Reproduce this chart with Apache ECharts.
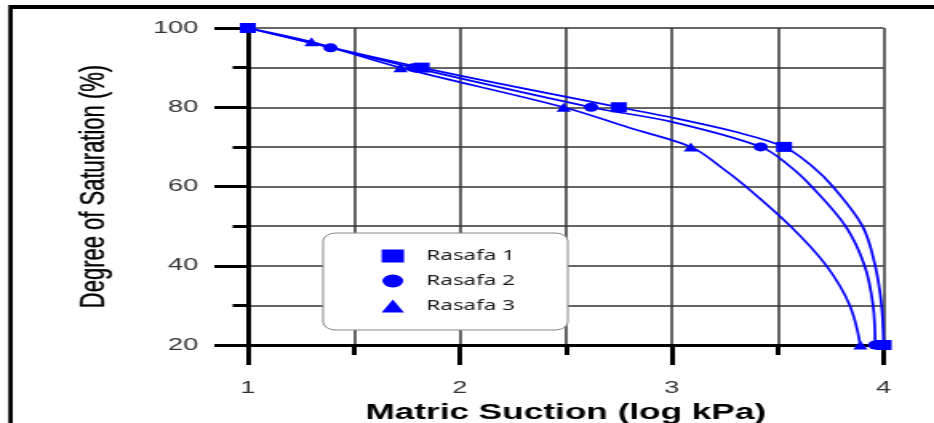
<!DOCTYPE html>
<html>
<head>
<meta charset="utf-8">
<title>Degree of Saturation</title>
<style type="text/css">
	body { margin: 0; overflow: hidden; background: #fff; }
	/* the reference picture is stretched sideways, so the chart is drawn narrow and widened */
	#main { width: 584px; height: 423px; transform: scaleX(1.5993); transform-origin: 0 0; }
</style>
</head>
<body>
<div id="main"></div>
<script src="https://cdn.jsdelivr.net/npm/echarts@6/dist/echarts.min.js"></script>
<script>
// matric suction (log kPa) and degree of saturation (%)
// mark: 1 = measured point with a marker, 0 = point read along the fitted curve
var rasafa1X = [1, 1.82, 2.75, 3.0, 3.3, 3.53, 3.665, 3.76, 3.90, 3.96, 3.99, 4.00];
var rasafa1Y = [100, 90, 80, 77.4, 73.8, 70, 65, 60, 50, 40, 30, 20];
var rasafa1Mark = [1, 1, 1, 0, 0, 1, 0, 0, 0, 0, 0, 1];

var rasafa2X = [1, 1.39, 1.78, 2.62, 3.0, 3.42, 3.56, 3.66, 3.82, 3.91, 3.95, 3.96];
var rasafa2Y = [100, 95, 90, 80, 76.3, 70, 65, 60, 50, 40, 30, 20];
var rasafa2Mark = [1, 1, 1, 1, 0, 1, 0, 0, 0, 0, 0, 1];

var rasafa3X = [1, 1.30, 1.72, 2.49, 2.8, 3.09, 3.23, 3.35, 3.56, 3.73, 3.84, 3.89];
var rasafa3Y = [100, 96.5, 90, 80, 74.8, 70, 65, 60, 50, 40, 30, 20];
var rasafa3Mark = [1, 1, 1, 1, 0, 1, 0, 0, 0, 0, 0, 1];

var xTicks = [1, 4, 1];     // min, max, interval
var yTicks = [20, 100, 20];

var blue = '#0000ff';

function curve(name, xs, ys, marks, symbol, size) {
	var data = [];
	for (var i = 0; i < xs.length; i++) {
		data.push({ value: [xs[i], ys[i]], symbol: marks[i] ? symbol : 'none' });
	}
	return {
		name: name,
		type: 'line',
		smooth: 0.35,
		clip: false,
		symbol: symbol,
		symbolSize: size,
		showAllSymbol: true,
		lineStyle: { color: blue, width: 1.7 },
		itemStyle: { color: blue },
		data: data
	};
}

var labelFont = { fontFamily: 'Liberation Sans', fontSize: 17, color: '#333' };

var chart = echarts.init(document.getElementById('main'));
chart.setOption({
	animation: false,
	grid: { left: 155, right: 31.5, top: 28, bottom: 78, outerBoundsMode: 'none' },
	xAxis: {
		type: 'value',
		min: xTicks[0],
		max: xTicks[1],
		interval: xTicks[2],
		axisLine: { onZero: false, lineStyle: { color: '#000', width: 3 } },
		axisTick: { length: 20, lineStyle: { color: '#000', width: 3 } },
		minorTick: { show: true, splitNumber: 2, length: 10, lineStyle: { color: '#000', width: 3 } },
		splitLine: { show: true, lineStyle: { color: '#333', width: 1.5 } },
		minorSplitLine: { show: true, lineStyle: { color: '#333', width: 1.5 } },
		axisLabel: Object.assign({ margin: 35 }, labelFont),
		name: 'Matric Suction (log kPa)',
		nameLocation: 'middle',
		nameGap: 45,
		nameTextStyle: { fontFamily: 'Liberation Sans', fontWeight: 'bold', fontSize: 22, color: '#000' }
	},
	yAxis: {
		type: 'value',
		min: yTicks[0],
		max: yTicks[1],
		interval: yTicks[2],
		axisLine: { show: true, lineStyle: { color: '#000', width: 3 } },
		axisTick: { show: true, length: 21, lineStyle: { color: '#000', width: 3 } },
		minorTick: { show: true, splitNumber: 2, length: 9.5, lineStyle: { color: '#000', width: 3 } },
		splitLine: { show: true, lineStyle: { color: '#333', width: 1.5 } },
		minorSplitLine: { show: true, lineStyle: { color: '#333', width: 1.5 } },
		axisLabel: Object.assign({ margin: 31 }, labelFont),
		name: 'Degree of Saturation (%)',
		nameLocation: 'middle',
		nameGap: 85,
		nameTextStyle: { fontFamily: 'Liberation Sans', fontSize: 22, color: '#000', textBorderColor: '#000', textBorderWidth: 0.3 }
	},
	legend: {
		orient: 'vertical',
		left: 238.6,
		top: 249,
		padding: 0,
		itemWidth: 14,
		itemHeight: 13,
		itemGap: 11,
		selectedMode: false,
		z: 60,
		textStyle: { fontFamily: 'Noto Sans', fontSize: 14, color: '#1a1a1a', padding: [0, 0, 0, 9] },
		data: [
			{ name: 'Rasafa 1', icon: 'rect' },
			{ name: 'Rasafa 2', icon: 'circle' },
			{ name: 'Rasafa 3', icon: 'triangle' }
		]
	},
	graphic: [
		{ type: 'line', shape: { x1: 6, y1: 7, x2: 600, y2: 7 }, style: { stroke: '#000', lineWidth: 4 } },
		{ type: 'line', shape: { x1: 6.6, y1: 5, x2: 6.6, y2: 440 }, style: { stroke: '#000', lineWidth: 2.75 } },
		{ type: 'rect', z: 50, shape: { x: 202, y: 233, width: 153, height: 97, r: 8 }, style: { fill: '#fff', stroke: '#888', lineWidth: 1 } }
	],
	series: [
		curve('Rasafa 3', rasafa3X, rasafa3Y, rasafa3Mark, 'triangle', 9),
		curve('Rasafa 2', rasafa2X, rasafa2Y, rasafa2Mark, 'circle', 9),
		curve('Rasafa 1', rasafa1X, rasafa1Y, rasafa1Mark, 'rect', 10)
	]
});
</script>
</body>
</html>
